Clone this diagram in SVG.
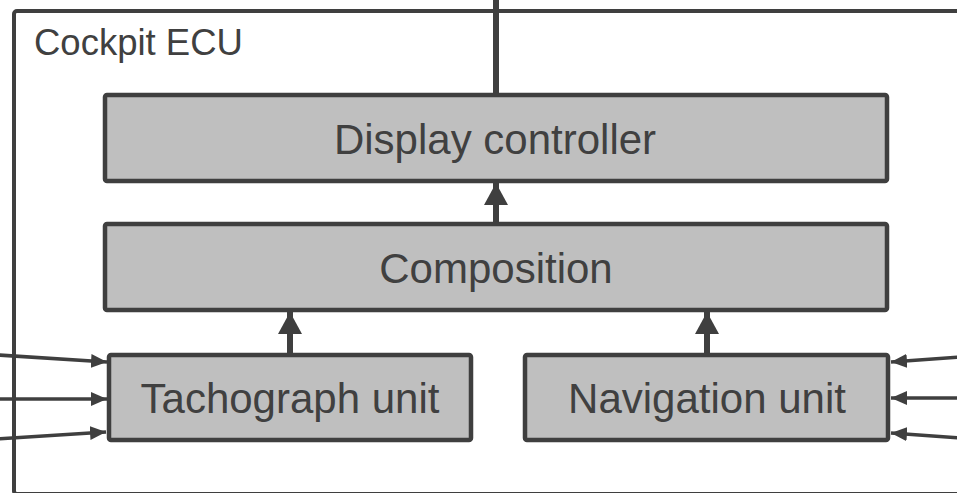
<svg xmlns="http://www.w3.org/2000/svg" width="957" height="493" viewBox="0 0 957 493">
  <style>
    .frame { fill: none; stroke: #3f3f3f; stroke-width: 4; }
    .box { fill: #bfbfbf; stroke: #3f3f3f; stroke-width: 4.5; }
    .label { font-family: "Liberation Sans", Arial, sans-serif; font-size: 42px; fill: #404040; text-anchor: middle; }
    .title { font-family: "Liberation Sans", Arial, sans-serif; font-size: 36.5px; fill: #404040; }
    .thick { stroke: #3f3f3f; stroke-width: 6; fill: none; }
    .thin { stroke: #3f3f3f; stroke-width: 3.5; fill: none; }
  </style>
  <defs>
    <marker id="headBig" markerUnits="userSpaceOnUse" viewBox="0 0 22 24" refX="22" refY="12" markerWidth="22" markerHeight="24" orient="auto">
      <path d="M0,0 L22,12 L0,24 Z" fill="#3f3f3f"/>
    </marker>
    <marker id="headSmall" markerUnits="userSpaceOnUse" viewBox="0 0 16 14" refX="16" refY="7" markerWidth="16" markerHeight="14" orient="auto">
      <path d="M0,0 L16,7 L0,14 Z" fill="#3f3f3f"/>
    </marker>
  </defs>

  <!-- ECU boundary -->
  <g id="cockpit-ecu">
    <rect class="frame" x="14" y="11" width="960" height="483" rx="3"/>
    <text class="title" x="34" y="55">Cockpit ECU</text>
  </g>

  <g id="display-controller">
    <rect class="box" x="105" y="95" width="782" height="86" rx="2"/>
    <text class="label" x="495" y="154">Display controller</text>
  </g>

  <g id="composition">
    <rect class="box" x="105" y="224" width="782" height="86" rx="2"/>
    <text class="label" x="496" y="283">Composition</text>
  </g>

  <g id="tachograph-unit">
    <rect class="box" x="109" y="355" width="362" height="85" rx="2"/>
    <text class="label" x="290" y="413">Tachograph unit</text>
  </g>

  <g id="navigation-unit">
    <rect class="box" x="525" y="355" width="363" height="85" rx="2"/>
    <text class="label" x="707" y="413">Navigation unit</text>
  </g>

  <g id="connectors">
    <!-- output of the display controller -->
    <line class="thick" x1="496" y1="0" x2="496" y2="95"/>
    <!-- internal data flow -->
    <line class="thick" x1="496" y1="224" x2="496" y2="183" marker-end="url(#headBig)"/>
    <line class="thick" x1="290" y1="353" x2="290" y2="312" marker-end="url(#headBig)"/>
    <line class="thick" x1="707" y1="353" x2="707" y2="312" marker-end="url(#headBig)"/>
    <!-- tachograph inputs -->
    <line class="thin" x1="-2" y1="355" x2="107" y2="362" marker-end="url(#headSmall)"/>
    <line class="thin" x1="-2" y1="399" x2="107" y2="399" marker-end="url(#headSmall)"/>
    <line class="thin" x1="-2" y1="439" x2="106" y2="432" marker-end="url(#headSmall)"/>
    <!-- navigation inputs -->
    <line class="thin" x1="959" y1="357" x2="891" y2="362" marker-end="url(#headSmall)"/>
    <line class="thin" x1="959" y1="398" x2="891" y2="398" marker-end="url(#headSmall)"/>
    <line class="thin" x1="959" y1="438" x2="891" y2="433" marker-end="url(#headSmall)"/>
  </g>
</svg>
